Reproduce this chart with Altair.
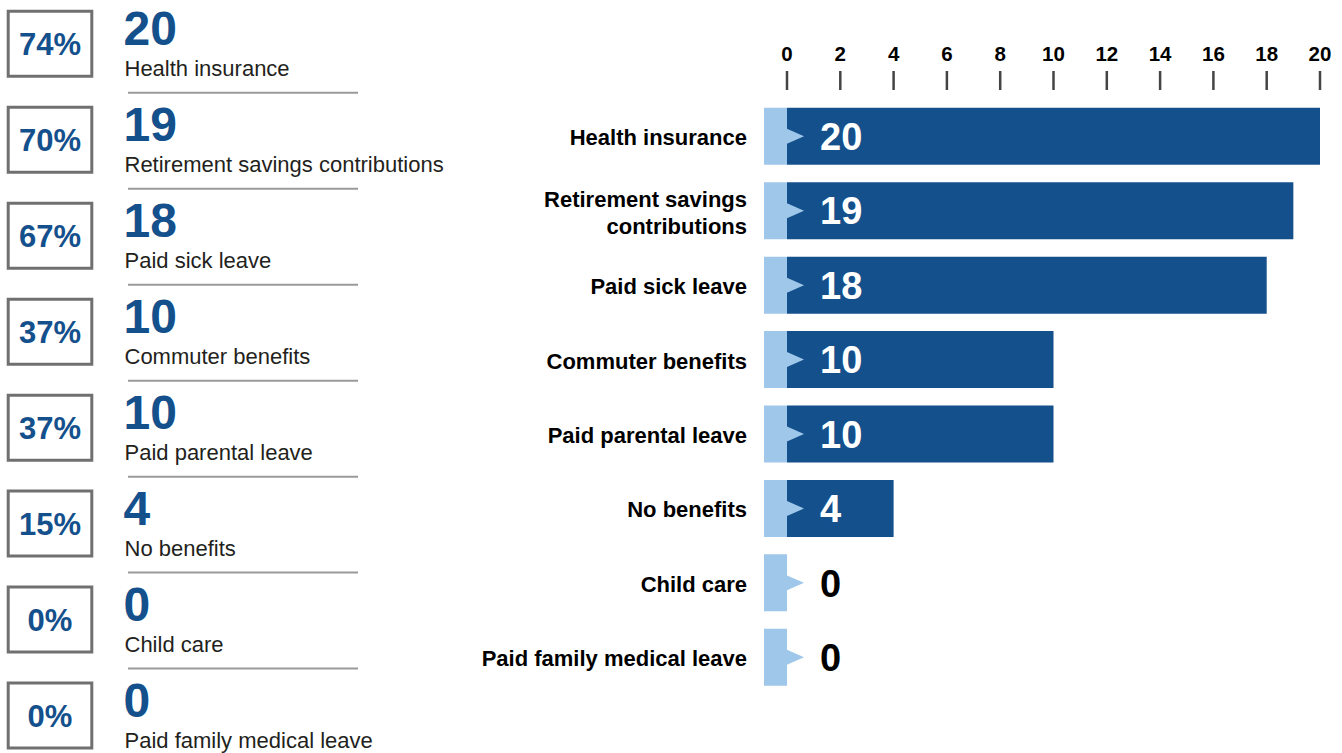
import altair as alt
import pandas as pd

# ---------------- data ----------------
categories = ["Health insurance", "Retirement savings contributions", "Paid sick leave",
              "Commuter benefits", "Paid parental leave", "No benefits", "Child care",
              "Paid family medical leave"]
counts = [20, 19, 18, 10, 10, 4, 0, 0]
percents = ["74%", "70%", "67%", "37%", "37%", "15%", "0%", "0%"]
bar_labels = ["Health insurance", "Retirement savings\ncontributions", "Paid sick leave",
              "Commuter benefits", "Paid parental leave", "No benefits", "Child care",
              "Paid family medical leave"]
axis_ticks = [0, 2, 4, 6, 8, 10, 12, 14, 16, 18, 20]

DARK = "#14508c"
LIGHT = "#9fc7e9"
NUM = "Liberation Sans"
COND = "Liberation Sans"

df = pd.DataFrame({"category": categories, "count": counts, "pct": percents, "label": bar_labels})
ticks = pd.DataFrame({"t": axis_ticks})

# ---------------- left panel ----------------
lscale = alt.Scale(range=[-4.2, 763.5], paddingInner=0, paddingOuter=0)


def yl(center=True):
    if center:
        return alt.Y("category:N", sort=categories, axis=None, scale=lscale, bandPosition=0.5)
    return alt.Y("category:N", sort=categories, axis=None, scale=lscale)


base_l = alt.Chart(df)
boxes = base_l.mark_bar(size=65, fill="white", stroke="#707070", strokeWidth=3).encode(
    y=yl(False), x=alt.value(8.2), x2=alt.value(91.8))
pct_text = base_l.mark_text(font=NUM, fontWeight="bold", fontSize=31, color=DARK,
                            align="center", baseline="alphabetic", dy=11.3).encode(
    y=yl(), x=alt.value(50), text="pct:N")
big_num = base_l.mark_text(font=NUM, fontWeight="bold", fontSize=48, color=DARK,
                           align="left", baseline="alphabetic", dy=1.5).encode(
    y=yl(), x=alt.value(123.5), text="count:Q")
small_lab = base_l.mark_text(font=COND, fontSize=22, color="#231f20",
                             align="left", baseline="alphabetic", dy=32.5).encode(
    y=yl(), x=alt.value(124.5), text="category:N")
seps = base_l.mark_rule(color="#9a9a9a", strokeWidth=2, yOffset=49).encode(
    y=yl(), x=alt.value(128), x2=alt.value(358))
left = alt.layer(boxes, pct_text, big_num, small_lab, seps)

# ---------------- right panel ----------------
xscale = alt.Scale(domain=[0, 20], range=[787, 1320], nice=False, zero=False)
rscale = alt.Scale(range=[99.1, 694.5], paddingInner=0, paddingOuter=0)


def yr(center=True):
    if center:
        return alt.Y("category:N", sort=categories, axis=None, scale=rscale, bandPosition=0.5)
    return alt.Y("category:N", sort=categories, axis=None, scale=rscale)


base_r = alt.Chart(df)
stubs = base_r.mark_bar(size=57, color=LIGHT, xOffset=-23).encode(
    x=alt.X(datum=0, type="quantitative", scale=xscale, axis=None),
    x2=alt.datum(0), y=yr(False))
bars = base_r.mark_bar(size=57, color=DARK).encode(
    x=alt.X("count:Q", scale=xscale, axis=None), y=yr(False))
tri = base_r.mark_point(shape="M-1,-0.88L1,0L-1,0.88Z", size=289, filled=True,
                        color=LIGHT, opacity=1, strokeWidth=0, xOffset=8.5).encode(
    x=alt.X(datum=0, type="quantitative", scale=xscale, axis=None), y=yr())
vals = base_r.mark_text(font=NUM, fontWeight="bold", fontSize=38, align="left",
                        baseline="alphabetic", dx=33, dy=13.7).encode(
    x=alt.X(datum=0, type="quantitative", scale=xscale, axis=None), y=yr(),
    text="count:Q",
    color=alt.when(alt.datum.count > 0).then(alt.value("white")).otherwise(alt.value("black")))
cat_one = base_r.transform_filter("indexof(datum.label, '\\n') < 0").mark_text(
    font=COND, fontWeight="bold", fontSize=22, color="black",
    align="right", baseline="middle", dy=2).encode(
    x=alt.value(747), y=yr(), text="label:N")
cat_two = base_r.transform_filter("indexof(datum.label, '\\n') >= 0").mark_text(
    font=COND, fontWeight="bold", fontSize=22, color="black",
    align="right", baseline="middle", lineBreak="\n", lineHeight=27, dy=-10.5).encode(
    x=alt.value(747), y=yr(), text="label:N")
tick_marks = alt.Chart(ticks).mark_rule(color="#444444", strokeWidth=2.5).encode(
    x=alt.X("t:Q", scale=xscale, axis=None), y=alt.value(71), y2=alt.value(90))
tick_text = alt.Chart(ticks).mark_text(font=NUM, fontWeight="bold", fontSize=20.5,
                                       color="black", align="center",
                                       baseline="alphabetic").encode(
    x=alt.X("t:Q", scale=xscale, axis=None), y=alt.value(61), text="t:Q")
right = alt.layer(stubs, bars, tri, vals, cat_one, cat_two, tick_marks, tick_text)

chart = alt.layer(left, right).resolve_scale(x="independent", y="independent").properties(
    width=1342, height=753
).configure(
    padding=0, autosize=alt.AutoSizeParams(type="none"), background="white"
).configure_view(stroke=None)

chart.save("out.html", embed_options={"renderer": "svg", "actions": False})
